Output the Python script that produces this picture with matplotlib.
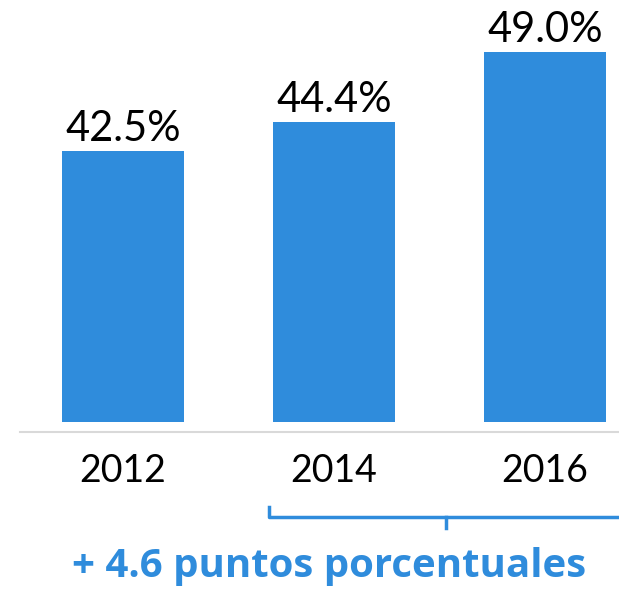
import matplotlib
matplotlib.use("Agg")
import matplotlib.pyplot as plt
from matplotlib.lines import Line2D

years = ["2012", "2014", "2016"]
values = [42.5, 44.4, 49.0]

BLUE = "#2F8CDC"
W, H = 619, 591
plt.rcParams['font.family'] = ['Lato', 'DejaVu Sans']

fig = plt.figure(figsize=(W / 100, H / 100), dpi=100)
# axes occupies from top of figure down to bar base at y=421.7 px
ax = fig.add_axes([0, 1 - 421.7 / H, 1, 421.7 / H])
x = list(range(len(years)))
ax.bar(x, values, width=0.578, color=BLUE)
ax.set_xlim(-0.583, 2.351)
ax.set_ylim(24.8, 52.4)
ax.axis("off")

for xi, v in zip(x, values):
    ax.annotate(f"{v:.1f}%", (xi, v), xytext=(0, 2), textcoords="offset points",
                ha="center", va="bottom", fontsize=30, color="black")

# baseline
fig.add_artist(Line2D([20 / W, 1], [1 - 431.7 / H] * 2, color="#d9d9d9", lw=1.5))

# year labels
for xi, yr in zip(x, years):
    xf = ax.transAxes.inverted().transform(ax.transData.transform((xi, 0)))[0]
    fig.text(xf, 1 - 470.5 / H, yr, ha="center", va="center", fontsize=27, color="black")

# bracket
y_top = 1 - 506.7 / H
y_mid = 1 - 516.7 / H
y_bot = 1 - 528 / H
x0, x1, xc = 269 / W, 621 / W, 446 / W
fig.add_artist(Line2D([x0, x0, x1, x1], [y_top, y_mid, y_mid, y_top], color=BLUE, lw=2.5,
                      solid_joinstyle="round"))
fig.add_artist(Line2D([xc, xc], [y_mid, y_bot], color=BLUE, lw=2.5))

diff = values[-1] - values[1]
fig.text(329 / W, 1 - 567 / H, f"+ {diff:.1f} puntos porcentuales", ha="center", va="center",
         fontsize=29, fontweight="bold", color=BLUE, family=["Open Sans", "DejaVu Sans"])

fig.savefig("out.png", dpi=100)
